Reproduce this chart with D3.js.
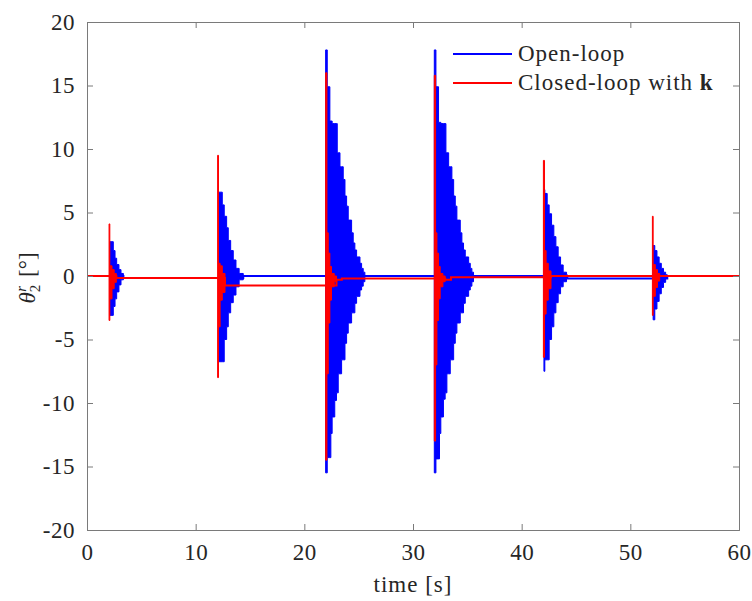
<!DOCTYPE html>
<html>
<head>
<meta charset="utf-8">
<script src="https://cdn.jsdelivr.net/npm/d3@7"></script>
<style>
    body {margin: 0; background: #fff;}
    text {font-family: "Liberation Serif", "Times New Roman", serif; fill: #262626;}
</style>
</head>
<body>
<div class="chart-content"></div>
<script>
// axis ticks
let xTicks = [0, 10, 20, 30, 40, 50, 60];
let yTicks = [-20, -15, -10, -5, 0, 5, 10, 15, 20];

// open-loop bursts, rows are [t, upper envelope, lower envelope]
let open2 = [[2.1, 2.7, -3.1], [2.42, 2.0, -2.4], [2.58, 1.4, -1.8], [2.73, 0.9, -1.25], [2.94, 0.5, -0.7], [3.13, 0.2, -0.3], [3.35, -0.15, -0.15]];
let open12 = [[12.1, 6.6, -6.75], [12.45, 5.6, -6.75], [12.63, 4.7, -5.0], [12.85, 3.8, -4.0], [13.0, 2.8, -2.9], [13.22, 2.0, -2.1],
    [13.46, 1.26, -1.5], [13.71, 0.6, -0.85], [14.0, 0.2, -0.3], [14.38, 0, 0]];
let open22 = [[21.96, 17.8, -15.5], [22.11, 14.9, -14.3], [22.35, 12.2, -14.3], [22.44, 12.2, -12.4], [22.56, 12.0, -11.1],
    [22.8, 12.0, -9.8], [22.96, 12.0, -9.2], [23.03, 9.7, -9.2], [23.12, 9.7, -7.7], [23.28, 8.6, -7.7], [23.43, 8.6, -6.6],
    [23.58, 7.6, -6.6], [23.74, 6.3, -5.3], [23.89, 5.5, -4.5], [24.04, 4.4, -3.7], [24.35, 3.4, -2.9], [24.5, 2.6, -2.9],
    [24.65, 2.05, -2.15], [24.81, 1.5, -1.6], [25.12, 1.0, -1.1], [25.27, 0.6, -0.8], [25.42, 0.3, -0.45], [25.57, 0, 0]];
let open32 = [[31.96, 17.8, -15.5], [32.11, 14.9, -14.4], [32.35, 12.1, -14.4], [32.44, 12.1, -12.4], [32.56, 12.0, -11.1],
    [32.8, 12.0, -9.7], [32.96, 12.0, -9.2], [33.03, 9.7, -9.2], [33.12, 9.7, -7.7], [33.28, 8.6, -7.7], [33.43, 8.6, -6.6],
    [33.58, 7.6, -6.6], [33.74, 6.3, -5.3], [33.89, 5.5, -4.5], [34.04, 4.4, -3.7], [34.35, 3.4, -2.9], [34.5, 2.6, -2.9],
    [34.65, 2.05, -2.15], [34.81, 1.5, -1.6], [35.12, 1.0, -1.1], [35.27, 0.6, -0.8], [35.42, 0.3, -0.45], [35.57, 0, 0]];
let open42 = [[42.05, 6.8, -7.5], [42.13, 6.5, -6.6], [42.35, 5.6, -6.6], [42.53, 4.9, -5.0], [42.75, 4.0, -4.0], [42.96, 3.1, -2.9],
    [43.15, 2.3, -2.1], [43.36, 1.5, -1.4], [43.58, 0.87, -0.85], [43.82, 0.3, -0.45], [44.13, 0.1, -0.2], [44.2, -0.2, -0.2]];
let open52 = [[52.1, 2.4, -3.45], [52.25, 2.0, -2.6], [52.45, 1.5, -2.0], [52.65, 1.0, -1.4], [52.85, 0.6, -0.9],
    [53.05, 0.3, -0.5], [53.25, 0.1, -0.2], [53.4, 0, 0]];

// closed-loop bursts
let closed2 = [[2.03, 4.1, -3.5], [2.1, 0.8, -1.8], [2.3, 0.5, -1.0], [2.5, 0.2, -0.5], [2.7, -0.15, -0.15]];
let closed12 = [[12.02, 9.5, -8.0], [12.1, 1.0, -4.0], [12.25, 0.8, -1.9], [12.45, 0.2, -1.3], [12.7, -0.75, -0.75]];
let closed22 = [[21.96, 16.0, -14.5], [22.08, 3.4, -7.7], [22.2, 1.8, -3.7], [22.35, 0.75, -1.9], [22.5, 0.2, -0.85],
    [22.75, 0, -0.45], [22.96, -0.3, -0.3]];
let closed32 = [[31.96, 15.8, -13.0], [32.08, 3.4, -7.0], [32.2, 1.8, -3.5], [32.35, 0.75, -1.8], [32.5, 0.2, -0.85],
    [32.75, 0, -0.45], [32.96, -0.3, -0.3]];
let closed42 = [[42.0, 9.1, -6.4], [42.1, 2.0, -3.0], [42.25, 1.0, -1.9], [42.45, 0.4, -1.0], [42.7, 0, 0]];
let closed52 = [[52.03, 4.7, -3.1], [52.1, 0.9, -1.6], [52.3, 0.5, -0.9], [52.5, 0.2, -0.4], [52.7, 0, 0]];

// settled levels between bursts, [t, value]
let openLevels = [[0, 0], [3.35, -0.15], [14.38, 0], [25.57, 0], [35.57, 0], [44.2, -0.2], [53.4, 0], [60, 0]];
let closedLevels = [[0, 0], [2.7, -0.15], [12.7, -0.75], [22.96, -0.3], [23.45, -0.2], [32.96, -0.3], [33.5, -0.1], [42.7, 0], [60, 0]];

let seriesNames = ['Open-loop', 'Closed-loop with '];
let blue = '#0000ff';
let red = '#ff0000';
let serif = '"Liberation Serif", "Times New Roman", serif';

let w = 752;
let h = 601;
let m = {left: 87, right: 13, top: 22, bottom: 71};

let svg = d3.select('.chart-content')
    .append('svg')
    .attr('width', w)
    .attr('height', h);

let x = d3.scaleLinear().domain([0, 60]).range([m.left, w - m.right]);
let y = d3.scaleLinear().domain([-20, 20]).range([h - m.bottom, m.top]);

svg.append('clipPath').attr('id', 'plot-clip')
    .append('rect')
    .attr('x', m.left).attr('y', m.top)
    .attr('width', w - m.left - m.right).attr('height', h - m.top - m.bottom);

let plot = svg.append('g').attr('clip-path', 'url(#plot-clip)');

let level = d3.line()
    .x(function(d) {return x(d[0])})
    .y(function(d) {return y(d[1])})
    .curve(d3.curveStepAfter);

let envelope = d3.area()
    .x(function(d) {return x(d[0])})
    .y0(function(d) {return y(d[2])})
    .y1(function(d) {return y(d[1])})
    .curve(d3.curveStepAfter);

function drawSeries(levels, bursts, color) {
    plot.append('path')
        .datum(levels)
        .attr('d', level)
        .attr('fill', 'none')
        .attr('stroke', color)
        .attr('stroke-width', 2);
    plot.selectAll(null)
        .data(bursts)
        .enter()
        .append('path')
        .attr('d', envelope)
        .attr('fill', color)
        .attr('stroke', color)
        .attr('stroke-width', 1)
        .attr('stroke-linejoin', 'miter');
}

drawSeries(openLevels, [open2, open12, open22, open32, open42, open52], blue);
drawSeries(closedLevels, [closed2, closed12, closed22, closed32, closed42, closed52], red);

// box + ticks on all four sides, matlab style
let axisColor = '#7a7a7a';
let tickLen = 6;

let xAxis = d3.axisBottom(x).tickValues(xTicks).tickSize(-tickLen).tickPadding(14).tickFormat(d3.format('d'));
let xAxisTop = d3.axisTop(x).tickValues(xTicks).tickSize(-tickLen).tickFormat('');
let yAxis = d3.axisLeft(y).tickValues(yTicks).tickSize(-tickLen).tickPadding(12).tickFormat(d3.format('d'));
let yAxisRight = d3.axisRight(y).tickValues(yTicks).tickSize(-tickLen).tickFormat('');

let gx = svg.append('g').attr('transform', 'translate(0,' + (h - m.bottom) + ')').call(xAxis);
let gxt = svg.append('g').attr('transform', 'translate(0,' + m.top + ')').call(xAxisTop);
let gy = svg.append('g').attr('transform', 'translate(' + m.left + ',0)').call(yAxis);
let gyr = svg.append('g').attr('transform', 'translate(' + (w - m.right) + ',0)').call(yAxisRight);

[gx, gxt, gy, gyr].forEach(function(g) {
    g.attr('font-family', null);
    g.select('.domain').attr('stroke', axisColor).attr('stroke-width', 1);
    g.selectAll('.tick line').attr('stroke', axisColor);
    g.selectAll('.tick text')
        .style('font-family', serif)
        .style('font-size', '23px')
        .style('letter-spacing', '0.5px')
        .style('fill', '#262626');
});
gx.selectAll('.tick text').attr('dy', '0.71em');
gy.selectAll('.tick text').text(function(d) {return d < 0 ? '-' + Math.abs(d) : d;});

// axis labels
svg.append('text')
    .attr('x', x(30))
    .attr('y', 592)
    .attr('text-anchor', 'middle')
    .style('font-family', serif)
    .style('font-size', '23px')
    .style('letter-spacing', '1px')
    .text('time [s]');

let ylab = svg.append('text')
    .attr('transform', 'translate(35,' + (y(0) + 2) + ') rotate(-90)')
    .attr('text-anchor', 'middle')
    .style('font-family', serif)
    .style('font-size', '23px');
ylab.append('tspan').attr('font-style', 'italic').text('θ');
ylab.append('tspan').style('font-size', '15px').attr('dy', 5).text('2');
ylab.append('tspan').style('font-size', '15px').attr('font-style', 'italic').attr('dx', -7).attr('dy', -14).text('r');
ylab.append('tspan').attr('dy', 9).attr('dx', 9).text('[°]');

// legend
let legend = svg.append('g');
let legendRows = [
    {name: seriesNames[0], color: blue, y: 54},
    {name: seriesNames[1], color: red, y: 83}
];
legendRows.forEach(function(r, i) {
    legend.append('line')
        .attr('x1', 453).attr('x2', 512)
        .attr('y1', r.y).attr('y2', r.y)
        .attr('stroke', r.color)
        .attr('stroke-width', 2);
    let t = legend.append('text')
        .attr('x', 518)
        .attr('y', r.y + 7)
        .style('font-family', serif)
        .style('font-size', '23px')
        .style('letter-spacing', '1px')
        .text(r.name);
    if (i === 1) {
        t.append('tspan').attr('font-weight', 'bold').text('k');
    }
});
</script>
</body>
</html>
